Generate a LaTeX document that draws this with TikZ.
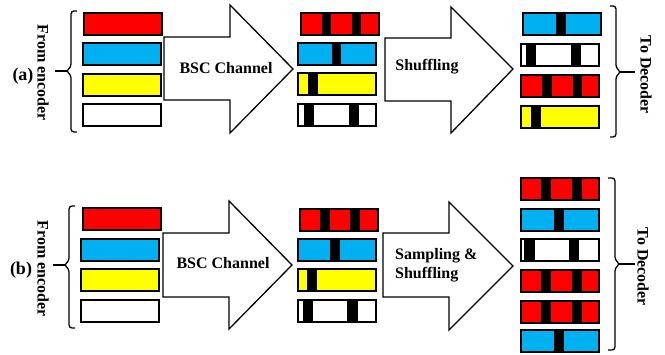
\documentclass[tikz,border=0pt]{standalone}
\usepackage{fontspec}
\setmainfont{Liberation Serif}
\usepackage{xcolor}
\usepackage{tikz}
\usetikzlibrary{positioning}

\definecolor{bitred}{RGB}{255,0,0}
\definecolor{bitblue}{RGB}{0,176,240}
\definecolor{bityellow}{RGB}{255,255,0}

\tikzset{
  word/.style={draw, line width=1.6pt, minimum width=78pt, minimum height=22pt, inner sep=0pt, anchor=north west},
  bigarrow/.style={draw, line width=1.3pt, fill=white, line join=miter},
  brace/.style={line width=1.3pt, rounded corners=3pt},
  lbl/.style={font=\bfseries\fontsize{16}{19}\selectfont, inner sep=0pt}
}

% codeword: name, x, y, colour
\newcommand{\codeword}[4]{\node[word, fill=#4] (#1) at (#2,#3) {};}
% black flipped bit: x1, x2, top y
\newcommand{\flip}[3]{\fill[black] (#1,#3) rectangle (#2,#3+22);}

\begin{document}
\begin{tikzpicture}[x=1pt,y=-1pt]
    \useasboundingbox (0,0) rectangle (665,355);

    % (a) from encoder
    \codeword{ar1}{83}{12}{bitred}
    \codeword{ab1}{82}{42}{bitblue}
    \codeword{ay1}{82}{73}{bityellow}
    \codeword{aw1}{82}{103}{white}

    \draw[brace] (77,11) -- (71,11) -- (71,67) -- (66,71) -- (71,75) -- (71,132) -- (77,132);
    \coordinate (atip) at (67,71);
    \coordinate (atail) at (55,71);
    \draw[line width=1.3pt] (atip) -- (atail);
    \node[font=\bfseries\fontsize{18}{20}\selectfont, inner sep=0pt] (alabel) at (23,76) {(a)};
    \node[lbl, rotate=-90] (afrom) at (43,73) {From encoder};

    \draw[bigarrow] (164,37) -- (230,37) -- (230,5) -- (293,69) -- (230,133) -- (230,100) -- (164,100) -- cycle;
    \node[lbl] (absc) at (226,68) {BSC Channel};

    % (a) after channel
    \codeword{ar2}{300}{12}{bitred}
    \flip{322}{331}{12} \flip{352}{361}{12}
    \codeword{ab2}{297}{42}{bitblue}
    \flip{332}{341}{42}
    \codeword{ay2}{297}{72}{bityellow}
    \flip{308}{318}{72}
    \codeword{aw2}{297}{103}{white}
    \flip{304}{314}{103} \flip{349}{359}{103}

    \draw[bigarrow] (385,38) -- (451,38) -- (451,7) -- (513,69) -- (451,133) -- (451,101) -- (385,101) -- cycle;
    \node[lbl] (ashuf) at (427,67) {Shuffling};

    % (a) to decoder
    \codeword{ab3}{522}{12}{bitblue}
    \flip{556}{566}{12}
    \codeword{aw3}{520}{43}{white}
    \flip{526}{536}{43} \flip{571}{581}{43}
    \codeword{ar3}{520}{74}{bitred}
    \flip{542}{552}{74} \flip{573}{582}{74}
    \codeword{ay3}{520}{105}{bityellow}
    \flip{531}{541}{105}

    \draw[brace] (610,6) -- (616,6) -- (616,68) -- (621,72) -- (616,76) -- (616,137) -- (610,137);
    \coordinate (adtip) at (620,72);
    \coordinate (adtail) at (635,72);
    \draw[line width=1.3pt] (adtip) -- (adtail);
    \node[lbl, rotate=-90] (ato) at (646,75) {To Decoder};

    % (b) from encoder
    \codeword{br1}{82}{207}{bitred}
    \codeword{bb1}{80}{238}{bitblue}
    \codeword{by1}{80}{268}{bityellow}
    \codeword{bw1}{80}{299}{white}

    \draw[brace] (75,206) -- (69,206) -- (69,261) -- (64,265) -- (69,269) -- (69,328) -- (75,328);
    \coordinate (btip) at (65,265);
    \coordinate (btail) at (53,265);
    \draw[line width=1.3pt] (btip) -- (btail);
    \node[font=\bfseries\fontsize{18}{20}\selectfont, inner sep=0pt] (blabel) at (21,270) {(b)};
    \node[lbl, rotate=-90] (bfrom) at (43,269) {From encoder};

    \draw[bigarrow] (163,233) -- (229,233) -- (229,201) -- (292,265) -- (229,329) -- (229,297) -- (163,297) -- cycle;
    \node[lbl] (bbsc) at (223,263) {BSC Channel};

    % (b) after channel
    \codeword{br2}{299}{208}{bitred}
    \flip{320}{330}{208} \flip{350}{360}{208}
    \codeword{bb2}{297}{238}{bitblue}
    \flip{330}{340}{238}
    \codeword{by2}{297}{268}{bityellow}
    \flip{307}{317}{268}
    \codeword{bw2}{297}{299}{white}
    \flip{303}{313}{299} \flip{347}{358}{299}

    \draw[bigarrow] (383,233) -- (449,233) -- (449,202) -- (513,266) -- (449,330) -- (449,297) -- (383,297) -- cycle;
    \node[lbl, align=left, anchor=west] (bsamp) at (395,265) {Sampling \&\\Shuffling};

    % (b) to decoder
    \codeword{br3}{520}{177}{bitred}
    \flip{541}{551}{177} \flip{572}{582}{177}
    \codeword{bb3}{520}{208}{bitblue}
    \flip{554}{564}{208}
    \codeword{bw3}{520}{238}{white}
    \flip{524}{535}{238} \flip{569}{579}{238}
    \codeword{br4}{520}{269}{bitred}
    \flip{541}{551}{269} \flip{572}{582}{269}
    \codeword{br5}{520}{300}{bitred}
    \flip{541}{551}{300} \flip{572}{582}{300}
    \codeword{bb4}{520}{329}{bitblue}
    \flip{554}{564}{329}

    \draw[brace] (608,178) -- (615,178) -- (615,260) -- (620,264) -- (615,268) -- (615,350) -- (608,350);
    \coordinate (bdtip) at (619,264);
    \coordinate (bdtail) at (635,264);
    \draw[line width=1.3pt] (bdtip) -- (bdtail);
    \node[lbl, rotate=-90] (bto) at (643,267) {To Decoder};

\end{tikzpicture}
\end{document}
